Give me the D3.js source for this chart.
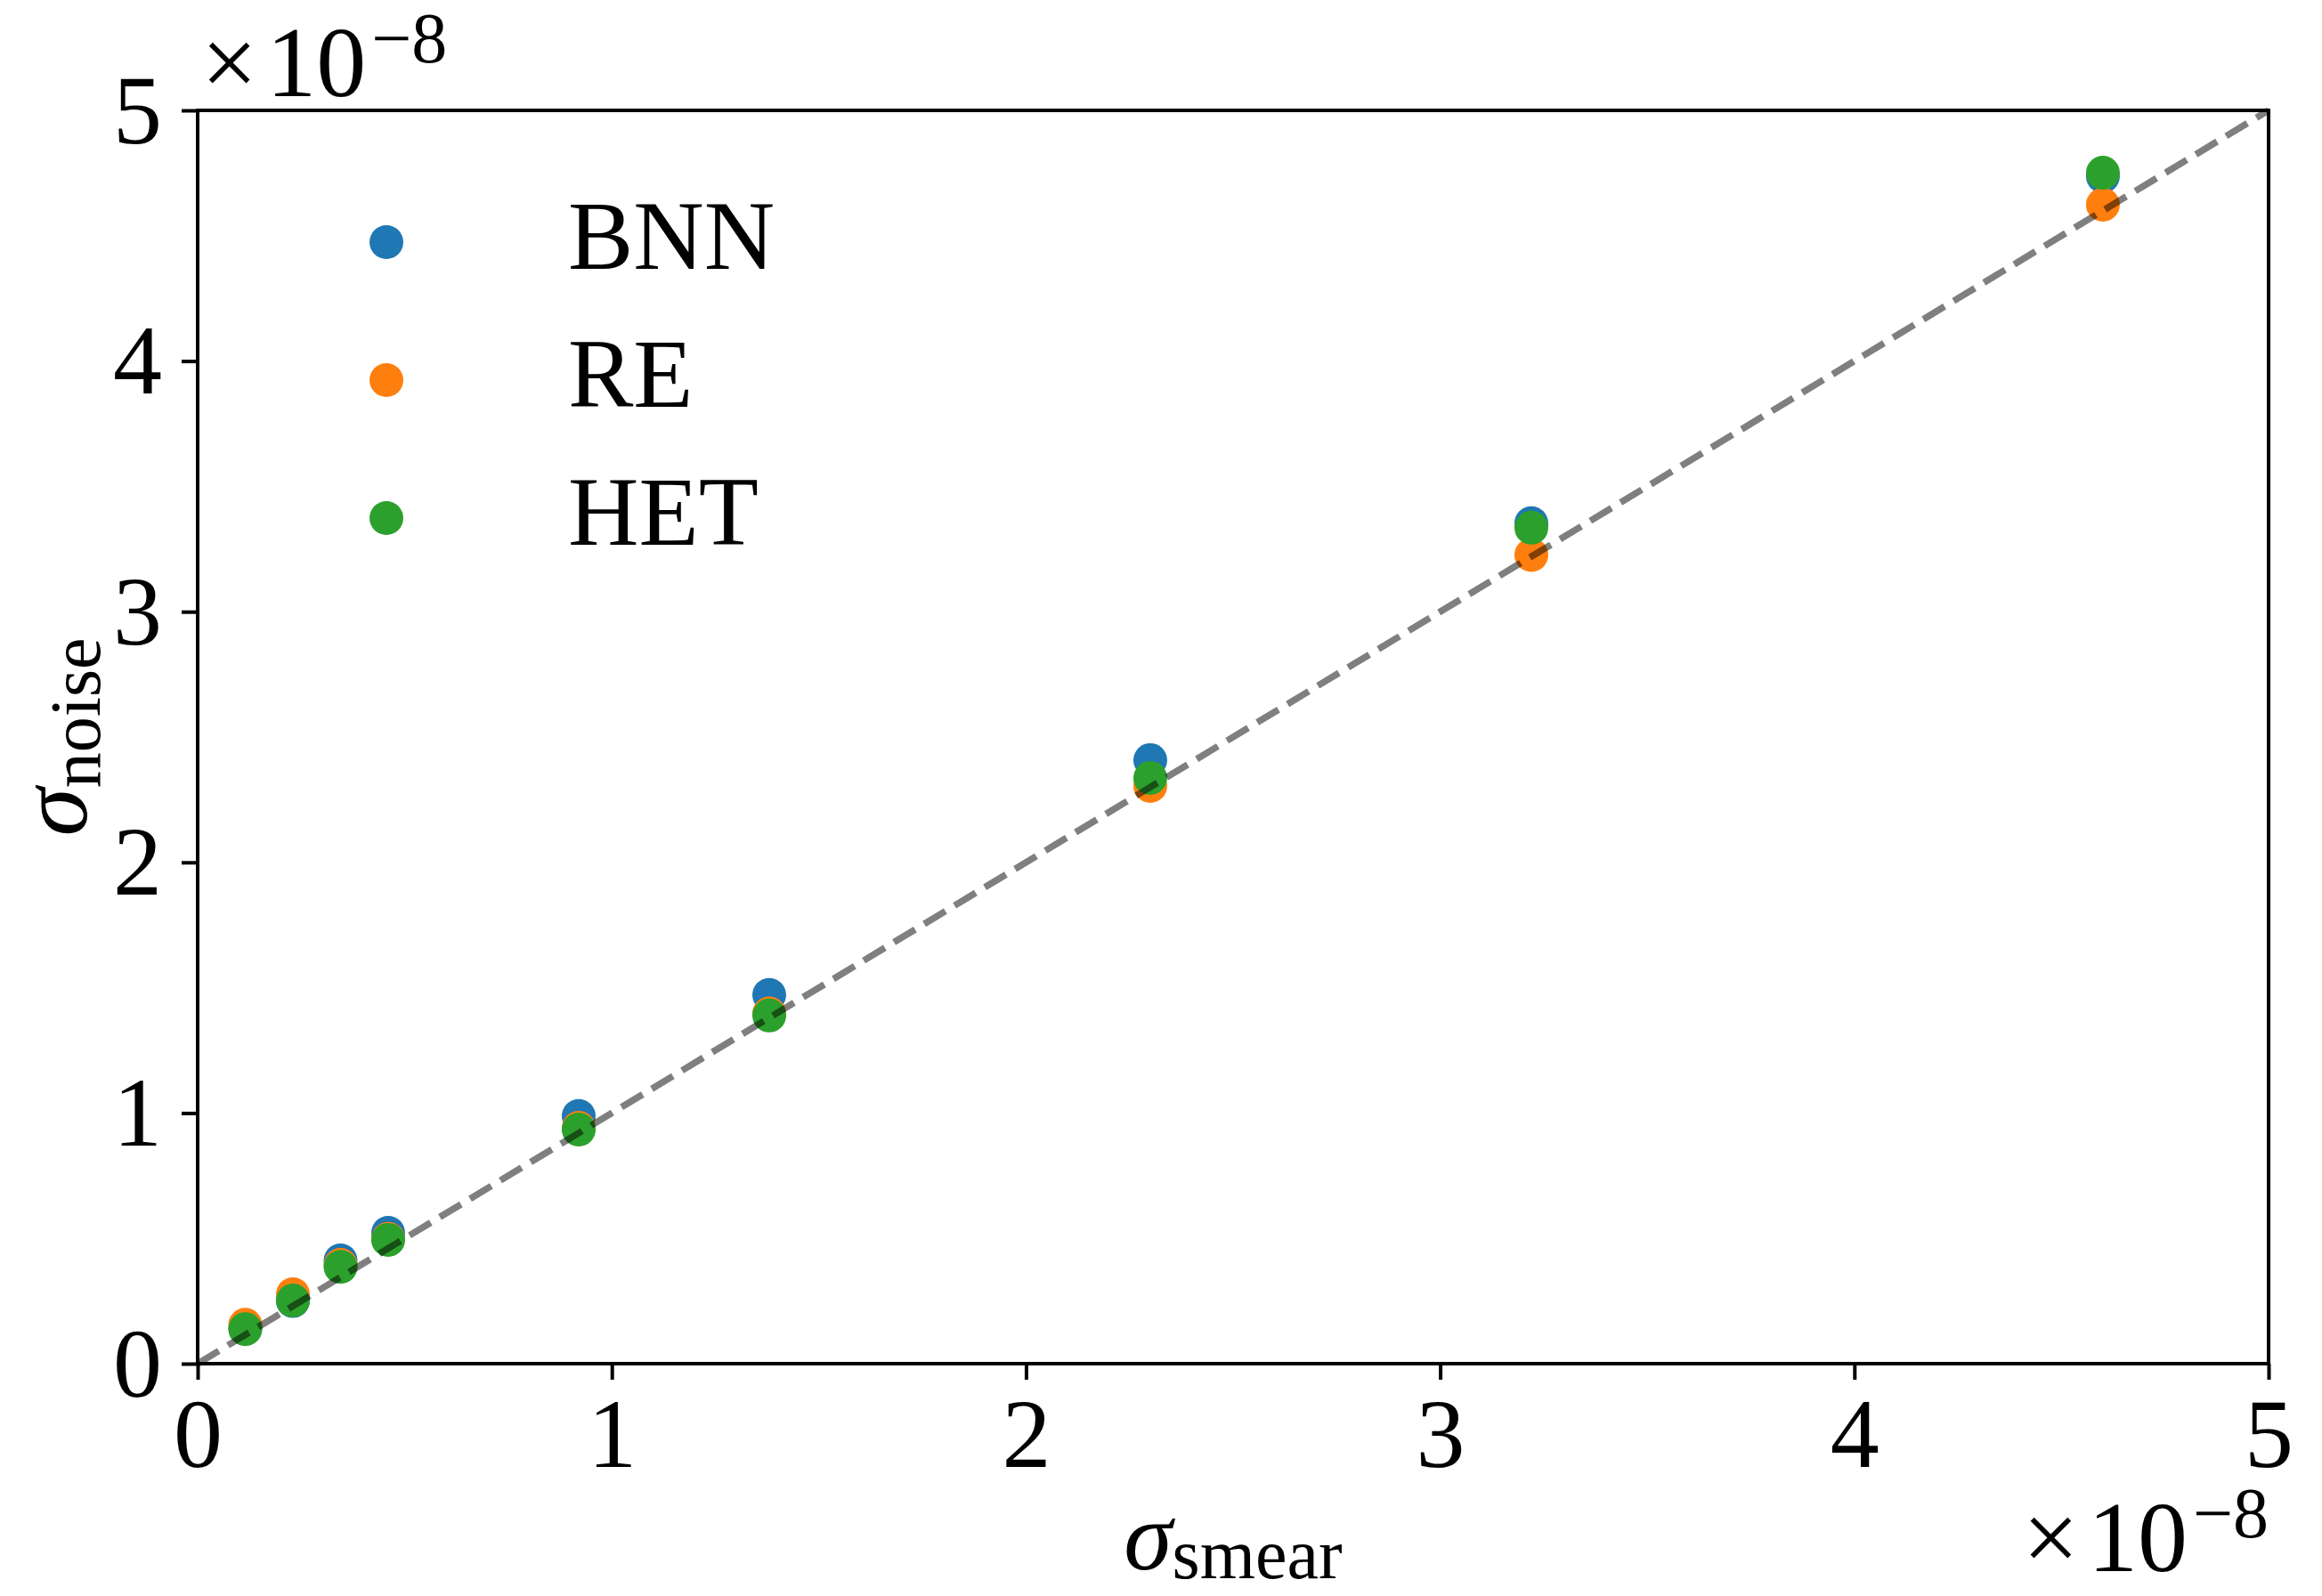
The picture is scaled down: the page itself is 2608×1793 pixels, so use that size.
<!DOCTYPE html>
<html>
<head>
<meta charset="utf-8">
<script src="https://cdn.jsdelivr.net/npm/d3@7"></script>
<style>
  html, body { margin: 0; padding: 0; background: #fff; }
  svg { display: block; }
  text { font-family: "Liberation Serif", "DejaVu Serif", serif; fill: #000; }
</style>
</head>
<body>
<svg id="chart" width="2608" height="1793"></svg>
<script>
// Values are expressed in units of 1e-8 (the axis offset labels carry the ×10^-8).
const sigmaSmear = [0.115, 0.23, 0.345, 0.46, 0.92, 1.38, 2.30, 3.22, 4.60];
const bnnNoise   = [0.140, 0.250, 0.412, 0.522, 0.988, 1.471, 2.408, 3.353, 4.737];
const reNoise    = [0.155, 0.277, 0.394, 0.498, 0.941, 1.397, 2.305, 3.226, 4.624];
const hetNoise   = [0.138, 0.252, 0.386, 0.494, 0.934, 1.389, 2.337, 3.335, 4.751];

const seriesNames  = ["BNN", "RE", "HET"];
const seriesValues = [bnnNoise, reNoise, hetNoise];
const seriesColors = ["#1f77b4", "#ff7f0e", "#2ca02c"];

const xTicks = [0, 1, 2, 3, 4, 5];
const yTicks = [0, 1, 2, 3, 4, 5];
const axisDomain = [0, 5];

const svg = d3.select("#chart");
const margin = { left: 222, right: 2608 - 2548, top: 124, bottom: 1793 - 1532 };
const W = 2608 - margin.left - margin.right;
const H = 1793 - margin.top - margin.bottom;

svg.append("rect").attr("width", 2608).attr("height", 1793).attr("fill", "#fff");

const g = svg.append("g").attr("transform", `translate(${margin.left},${margin.top})`);

const x = d3.scaleLinear().domain(axisDomain).range([0, W]);
const y = d3.scaleLinear().domain(axisDomain).range([H, 0]);

// Scatter markers, one layer per method
seriesValues.forEach((vals, i) => {
  g.append("g")
    .selectAll("circle")
    .data(vals.map((v, j) => ({ x: sigmaSmear[j], y: v })))
    .join("circle")
    .attr("cx", d => x(d.x))
    .attr("cy", d => y(d.y))
    .attr("r", 19)
    .attr("fill", seriesColors[i]);
});

// Identity reference line drawn over the markers
g.append("line")
  .attr("x1", x(axisDomain[0])).attr("y1", y(axisDomain[0]))
  .attr("x2", x(axisDomain[1])).attr("y2", y(axisDomain[1]))
  .attr("stroke", "#000")
  .attr("stroke-opacity", 0.5)
  .attr("stroke-width", 7.5)
  .attr("stroke-dasharray", "27.75,12");

// Frame
g.append("rect")
  .attr("x", 0).attr("y", 0).attr("width", W).attr("height", H)
  .attr("fill", "none").attr("stroke", "#000").attr("stroke-width", 4);

// Axes
const xAxis = g.append("g")
  .attr("transform", `translate(0,${H})`)
  .call(d3.axisBottom(x).tickValues(xTicks).tickFormat(d3.format("d")).tickSize(18).tickSizeOuter(0).tickPadding(10));
const yAxis = g.append("g")
  .call(d3.axisLeft(y).tickValues(yTicks).tickFormat(d3.format("d")).tickSize(18).tickSizeOuter(0).tickPadding(22));

[xAxis, yAxis].forEach(a => {
  a.select(".domain").remove();
  a.selectAll(".tick line").attr("stroke", "#000").attr("stroke-width", 4);
  a.selectAll(".tick text")
    .attr("font-family", "Liberation Serif, DejaVu Serif, serif")
    .attr("font-size", 110)
    .attr("fill", "#000");
});
xAxis.selectAll(".tick text").attr("dy", null).attr("y", 1648 - 1532);
yAxis.selectAll(".tick text").attr("dy", null).attr("y", 36);

// Offset labels (×10^-8)
function offsetLabel(xPos, yPos, anchor) {
  const t = svg.append("text")
    .attr("x", xPos).attr("y", yPos)
    .attr("text-anchor", anchor)
    .attr("font-size", 112);
  t.append("tspan").text("×");
  t.append("tspan").attr("dx", 10).text("10");
  t.append("tspan").attr("font-size", 80).attr("dx", 6).attr("dy", -38).text("−8");
  return t;
}
offsetLabel(226, 108, "start");
offsetLabel(2548, 1765, "end");

// Axis titles
const xl = svg.append("text")
  .attr("x", margin.left + W / 2).attr("y", 1763)
  .attr("text-anchor", "middle").attr("font-size", 110);
xl.append("tspan").attr("font-style", "italic").text("σ");
xl.append("tspan").attr("font-size", 80).attr("dy", 10).text("smear");

const yl = svg.append("text")
  .attr("transform", `translate(97,${margin.top + H / 2}) rotate(-90)`)
  .attr("text-anchor", "middle").attr("font-size", 110);
yl.append("tspan").attr("font-style", "italic").text("σ");
yl.append("tspan").attr("font-size", 80).attr("dy", 15).text("noise");

// Legend
const legend = svg.append("g");
seriesNames.forEach((name, i) => {
  const cy = 272 + i * 155;
  legend.append("circle").attr("cx", 434).attr("cy", cy).attr("r", 19).attr("fill", seriesColors[i]);
  legend.append("text").attr("x", 638).attr("y", cy + 30).attr("font-size", 110).text(name);
});
</script>
</body>
</html>
